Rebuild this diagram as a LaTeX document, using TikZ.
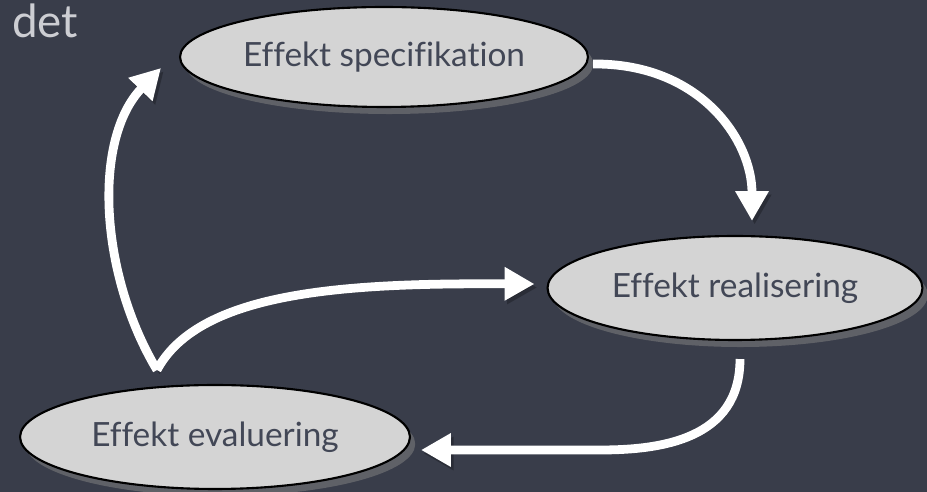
\documentclass[tikz,border=0pt]{standalone}
\usepackage{fontspec}
\setmainfont[Ligatures={NoCommon,NoRare}]{Lato}
\usetikzlibrary{shapes,arrows.meta,positioning,shadows,calc}

\definecolor{slate}{RGB}{57,61,74}
\definecolor{phasefill}{RGB}{212,212,212}
\definecolor{phasetext}{RGB}{66,71,86}
\definecolor{titlegray}{RGB}{205,206,211}

\tikzset{
  phase/.style={ellipse, draw=black, line width=1.2pt, fill=phasefill, inner sep=0pt,
    text=phasetext, font=\fontsize{19}{22}\selectfont,
    drop shadow={shadow xshift=3pt, shadow yshift=-4pt, opacity=0.55}},
  flow/.style={draw=white, line width=5pt, -{Triangle[width=18pt,length=17pt]},
    preaction={draw=black, opacity=0.25, transform canvas={shift={(1.5pt,-2pt)}}}},
}

\begin{document}
\begin{tikzpicture}[x=0.02cm, y=-0.02cm]
\fill[slate] (0,0) rectangle (927,492);
\useasboundingbox (0,0) rectangle (927,492);
% nodes
\node[anchor=base west, text=titlegray, font=\fontsize{26}{30}\selectfont] (title) at (6,38) {det};
\node[phase, minimum width=8.16cm, minimum height=2cm] (spec) at (384,57) {Effekt specifikation};
\node[phase, minimum width=7.5cm, minimum height=2.08cm] (real) at (735,288) {Effekt realisering};
\node[phase, minimum width=7.8cm, minimum height=2.08cm] (eval) at (215,437) {Effekt evaluering};
\coordinate (split) at (157,370);
% edges
\draw[flow] ([shift={(4,7)}]spec.east) .. controls (700,63) and (752,140) .. ([shift={(17,-14)}]real.north);
\draw[flow] ([shift={(5,18)}]real.south) .. controls (740,440) and (660,450) .. (600,450) -- ([shift={(10,13)}]eval.east);
\draw[flow] (split) .. controls (100,275) and (92,140) .. ([shift={(-18,11)}]spec.west);
\draw[flow] (split) .. controls (200,290) and (350,283) .. ([shift={(-12,-4)}]real.west);
\end{tikzpicture}
\end{document}
